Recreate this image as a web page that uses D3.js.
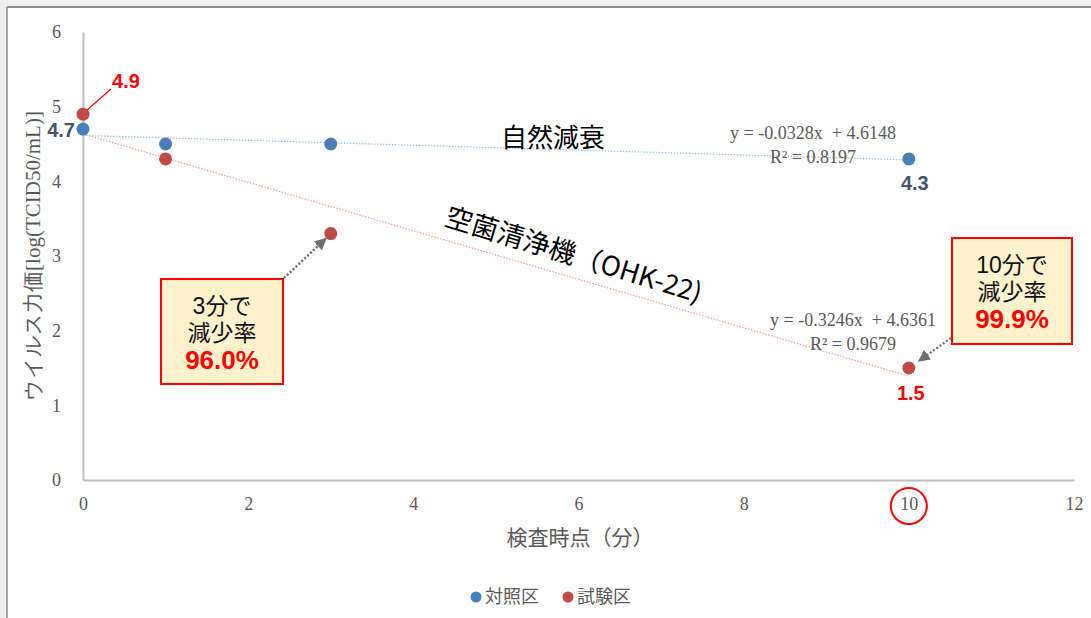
<!DOCTYPE html>
<html>
<head>
<meta charset="utf-8">
<script src="https://cdn.jsdelivr.net/npm/d3@7"></script>
<style>
  html, body { margin: 0; padding: 0; background: #ececec; }
  svg { display: block; }
</style>
</head>
<body>
<svg id="chart" width="1091" height="618"></svg>
<script>
// Inspection times (minutes)
const times = [0, 1, 3, 10];
// Virus titre log(TCID50/mL)
const controlValues = [4.7, 4.5, 4.5, 4.3];
const testValues = [4.9, 4.3, 3.3, 1.5];
const seriesNames = ["対照区", "試験区"];
const xTicks = [0, 2, 4, 6, 8, 10, 12];
const yTicks = [0, 1, 2, 3, 4, 5, 6];
// Reduction rates (%) at 3 and 10 minutes
const calloutTimes = ["3分で", "10分で"];
const reductionRates = [96.0, 99.9];

const svg = d3.select("#chart");
const W = 1091, H = 618;

// panel
svg.append("rect").attr("x", 0).attr("y", 0).attr("width", W).attr("height", H).attr("fill", "#efefef");
svg.append("rect").attr("x", 7).attr("y", 7).attr("width", W - 7).attr("height", H - 7).attr("fill", "#fff");
svg.append("line").attr("x1", 7).attr("x2", W).attr("y1", 7).attr("y2", 7).attr("stroke", "#6a6a6a").attr("stroke-width", 1.5);
svg.append("line").attr("x1", 7).attr("x2", 7).attr("y1", 7).attr("y2", H).attr("stroke", "#8a8a8a").attr("stroke-width", 1.5);

const x = d3.scaleLinear().domain([0, 12]).range([83, 1074]);
const y = d3.scaleLinear().domain([0, 6]).range([480, 32]);

const grey = "#595959";
const serif = "'Liberation Serif', 'Times New Roman', serif";
const jp = "'Noto Sans CJK JP', sans-serif";
const sans = "'Liberation Sans', Arial, sans-serif";
const sansJp = "'Liberation Sans', 'Noto Sans CJK JP', sans-serif";

// axes
const xAxis = svg.append("g").attr("transform", `translate(0,${y(0)})`)
  .call(d3.axisBottom(x).tickValues(xTicks).tickSize(0).tickPadding(17).tickFormat(d3.format("d")));
const yAxis = svg.append("g").attr("transform", `translate(${x(0)},0)`)
  .call(d3.axisLeft(y).tickValues(yTicks).tickSize(0).tickPadding(22).tickFormat(d3.format("d")));
[xAxis, yAxis].forEach(g => {
  g.select(".domain").attr("stroke", "#bfbfbf").attr("stroke-width", 2);
  g.selectAll("text").attr("fill", grey).attr("font-family", serif).attr("font-size", 18);
});

// axis titles
svg.append("text").attr("x", 580).attr("y", 545).attr("text-anchor", "middle")
  .attr("font-family", jp).attr("font-size", 21).attr("fill", grey).text("検査時点（分）");
svg.append("text").attr("transform", "translate(40,256) rotate(-90)").attr("text-anchor", "middle")
  .attr("font-family", serif).attr("font-size", 21).attr("fill", grey)
  .text("ウイルス力価[log(TCID50/mL)]");

// linear trend lines
function fit(xs, ys) {
  const mx = d3.mean(xs), my = d3.mean(ys);
  const sxy = d3.sum(xs, (v, i) => (v - mx) * (ys[i] - my));
  const sxx = d3.sum(xs, v => (v - mx) ** 2);
  const syy = d3.sum(ys, v => (v - my) ** 2);
  const slope = sxy / sxx;
  return { slope, intercept: my - slope * mx, r2: (sxy * sxy) / (sxx * syy) };
}
const colors = ["#4a7ebb", "#be4b48"];
const trendColors = ["#9dbde6", "#e8a3a2"];
const fits = [fit(times, controlValues), fit(times, testValues)];
fits.forEach((f, i) => {
  const x0 = d3.min(times), x1 = d3.max(times);
  svg.append("line")
    .attr("x1", x(x0)).attr("y1", y(f.intercept + f.slope * x0))
    .attr("x2", x(x1)).attr("y2", y(f.intercept + f.slope * x1))
    .attr("stroke", trendColors[i]).attr("stroke-width", 1.2).attr("stroke-dasharray", "1.5,1.5");
});

// trend equations
function eq(f, cx, cy) {
  const g = svg.append("g").attr("font-family", serif).attr("font-size", 18).attr("fill", grey).attr("text-anchor", "middle");
  g.append("text").attr("x", cx).attr("y", cy).attr("xml:space", "preserve")
    .text(`y = ${f.slope.toFixed(4)}x  + ${f.intercept.toFixed(4)}`);
  g.append("text").attr("x", cx).attr("y", cy + 24).text(`R² = ${f.r2.toFixed(4)}`);
}
eq(fits[0], 813, 139);
eq(fits[1], 853, 326);

// series markers
[controlValues, testValues].forEach((vals, i) => {
  svg.append("g").selectAll("circle").data(vals).join("circle")
    .attr("cx", (d, j) => x(times[j])).attr("cy", d => y(d)).attr("r", 6.5)
    .attr("fill", colors[i]);
});

// value labels
const dark = "#44546a", red = "#ff0000";
function vlabel(txt, px, py, color, anchor) {
  svg.append("text").attr("x", px).attr("y", py).attr("text-anchor", anchor || "middle")
    .attr("font-family", sans).attr("font-weight", "bold").attr("font-size", 20).attr("fill", color).text(txt);
}
vlabel(controlValues[0].toFixed(1), 75, y(controlValues[0]) + 8, dark, "end");
vlabel(controlValues[3].toFixed(1), x(times[3]) + 6, y(controlValues[3]) + 31, dark);
vlabel(testValues[0].toFixed(1), 126, 88, red);
svg.append("line").attr("x1", x(times[0]) + 4).attr("y1", y(testValues[0]) - 4).attr("x2", 111).attr("y2", 89)
  .attr("stroke", red).attr("stroke-width", 1.3);
vlabel(testValues[3].toFixed(1), x(times[3]) + 2, y(testValues[3]) + 32, red);

// line names
svg.append("text").attr("x", 553).attr("y", 147).attr("text-anchor", "middle")
  .attr("font-family", jp).attr("font-size", 26).attr("fill", "#000").text("自然減衰");
svg.append("text").attr("transform", "translate(571,264) rotate(17)").attr("text-anchor", "middle")
  .attr("font-family", jp).attr("font-size", 27).attr("fill", "#000").text("空菌清浄機（OHK-22)");

// arrow head
svg.append("defs").append("marker").attr("id", "head").attr("viewBox", "0 0 10 10")
  .attr("refX", 9).attr("refY", 5).attr("markerWidth", 5).attr("markerHeight", 5)
  .attr("markerUnits", "strokeWidth").attr("orient", "auto")
  .append("path").attr("d", "M0,0 L10,5 L0,10 z").attr("fill", "#6e6e6e");

// reduction callouts
function callout(bx, by, bw, bh, line1, pct, ax, ay, tx, ty) {
  svg.append("line").attr("x1", ax).attr("y1", ay).attr("x2", tx).attr("y2", ty)
    .attr("stroke", "#6e6e6e").attr("stroke-width", 2.4).attr("stroke-dasharray", "2,2")
    .attr("marker-end", "url(#head)");
  svg.append("rect").attr("x", bx).attr("y", by).attr("width", bw).attr("height", bh)
    .attr("fill", "#fff2cc").attr("stroke", "#ff0000").attr("stroke-width", 2);
  const cx = bx + bw / 2;
  svg.append("text").attr("x", cx).attr("y", by + 35).attr("text-anchor", "middle")
    .attr("font-family", sansJp).attr("font-size", 23).attr("fill", "#111").text(line1);
  svg.append("text").attr("x", cx).attr("y", by + 62).attr("text-anchor", "middle")
    .attr("font-family", sansJp).attr("font-size", 23).attr("fill", "#111").text("減少率");
  svg.append("text").attr("x", cx).attr("y", by + 90).attr("text-anchor", "middle")
    .attr("font-family", sans).attr("font-weight", "bold").attr("font-size", 26).attr("fill", "#ff0000").text(pct.toFixed(1) + "%");
}
callout(161, 279, 122, 105, calloutTimes[0], reductionRates[0], 284, 278, x(3) - 5, y(testValues[2]) + 5);
callout(952, 238, 120, 106, calloutTimes[1], reductionRates[1], 951, 338, x(10) + 10, y(testValues[3]) - 7);

// highlight on tick 10
svg.append("circle").attr("cx", x(10)).attr("cy", 506).attr("r", 18)
  .attr("fill", "none").attr("stroke", "#ff0000").attr("stroke-width", 2);

// legend
const lg = svg.append("g").attr("font-family", jp).attr("font-size", 18).attr("fill", grey);
seriesNames.forEach((n, i) => {
  const lx = 476 + i * 92;
  lg.append("circle").attr("cx", lx).attr("cy", 597).attr("r", 5.5).attr("fill", colors[i]);
  lg.append("text").attr("x", lx + 9).attr("y", 603).text(n);
});
</script>
</body>
</html>
